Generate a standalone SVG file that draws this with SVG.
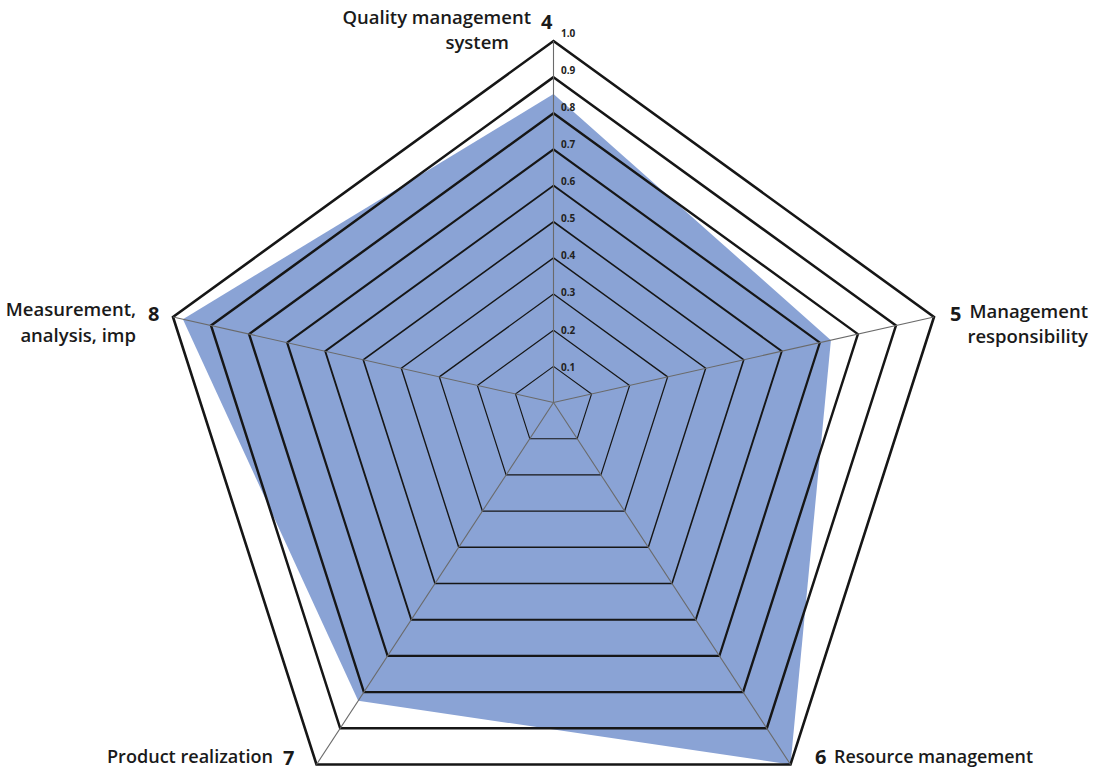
<svg xmlns="http://www.w3.org/2000/svg" width="1101" height="771" viewBox="0 0 1101 771">
<style>
.lbl{font-family:"Open Sans","Liberation Sans",sans-serif;font-weight:600;font-size:18.5px;fill:#1a1a1a}
.num{font-family:"Open Sans","Liberation Sans",sans-serif;font-weight:700;font-size:20px;fill:#1a1a1a}
.tick{font-family:"Open Sans","Liberation Sans",sans-serif;font-weight:700;font-size:10px;fill:#222}
.ring{fill:none;stroke:#161616;stroke-linejoin:miter}
.spoke{stroke:#6a6a6a;stroke-width:1.1;fill:none}
</style>
<rect width="1101" height="771" fill="#ffffff"/>
<g id="data-area">
<polygon points="553.5,94.1 830.9,340.2 790.5,764.5 358.2,700.8 182.9,319.2" fill="#8aa3d5"/>
</g>
<g id="grid">
<polygon class="ring" stroke-width="1.1" points="553.5,366.35 591.55,393.95 577.2,438.7 529.8,438.7 515.45,393.95"/>
<polygon class="ring" stroke-width="1.2" points="553.5,330.2 629.6,385.4 600.9,474.9 506.1,474.9 477.4,385.4"/>
<polygon class="ring" stroke-width="1.3" points="553.5,294.05 667.65,376.85 624.6,511.1 482.4,511.1 439.35,376.85"/>
<polygon class="ring" stroke-width="1.4" points="553.5,257.9 705.7,368.3 648.3,547.3 458.7,547.3 401.3,368.3"/>
<polygon class="ring" stroke-width="1.6" points="553.5,221.75 743.75,359.75 672,583.5 435,583.5 363.25,359.75"/>
<polygon class="ring" stroke-width="1.9" points="553.5,185.6 781.8,351.2 695.7,619.7 411.3,619.7 325.2,351.2"/>
<polygon class="ring" stroke-width="2.2" points="553.5,149.45 819.85,342.65 719.4,655.9 387.6,655.9 287.15,342.65"/>
<polygon class="ring" stroke-width="2.4" points="553.5,113.3 857.9,334.1 743.1,692.1 363.9,692.1 249.1,334.1"/>
<polygon class="ring" stroke-width="2.5" points="553.5,77.15 895.95,325.55 766.8,728.3 340.2,728.3 211.05,325.55"/>
<polygon class="ring" stroke-width="2.6" points="553.5,41 934,317 790.5,764.5 316.5,764.5 173,317"/>
</g>
<g id="connectors">
<line class="spoke" x1="553.5" y1="402.5" x2="553.5" y2="41"/>
<line class="spoke" x1="553.5" y1="402.5" x2="934" y2="317"/>
<line class="spoke" x1="553.5" y1="402.5" x2="790.5" y2="764.5"/>
<line class="spoke" x1="553.5" y1="402.5" x2="316.5" y2="764.5"/>
<line class="spoke" x1="553.5" y1="402.5" x2="173" y2="317"/>
</g>
<g id="scale">
<text class="tick" x="561" y="36.7">1.0</text>
<text class="tick" x="561" y="73.8">0.9</text>
<text class="tick" x="561" y="110.9">0.8</text>
<text class="tick" x="561" y="148">0.7</text>
<text class="tick" x="561" y="185.1">0.6</text>
<text class="tick" x="561" y="222.2">0.5</text>
<text class="tick" x="561" y="259.3">0.4</text>
<text class="tick" x="561" y="296.4">0.3</text>
<text class="tick" x="561" y="333.5">0.2</text>
<text class="tick" x="561" y="370.6">0.1</text>
</g>
<g id="node-4">
<text class="lbl" x="531" y="24" text-anchor="end">Quality management</text>
<text class="lbl" x="509" y="48.5" text-anchor="end">system</text>
<text class="num" x="541" y="28.5">4</text>
</g>
<g id="node-5">
<text class="num" x="950" y="320.5">5</text>
<text class="lbl" x="1088" y="317.5" text-anchor="end">Management</text>
<text class="lbl" x="1088" y="343" text-anchor="end">responsibility</text>
</g>
<g id="node-6">
<text class="num" x="815" y="764">6</text>
<text class="lbl" x="834" y="763" textLength="199" lengthAdjust="spacingAndGlyphs">Resource management</text>
</g>
<g id="node-7">
<text class="lbl" x="107" y="763" textLength="166" lengthAdjust="spacingAndGlyphs">Product realization</text>
<text class="num" x="283" y="765">7</text>
</g>
<g id="node-8">
<text class="lbl" x="136" y="316" text-anchor="end">Measurement,</text>
<text class="lbl" x="136" y="341.5" text-anchor="end">analysis, imp</text>
<text class="num" x="148" y="320.5">8</text>
</g>
</svg>
